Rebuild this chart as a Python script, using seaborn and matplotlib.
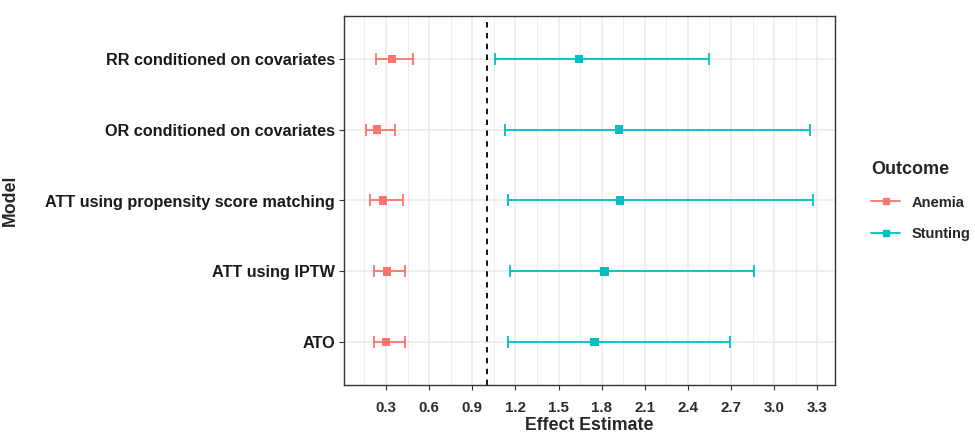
import matplotlib
matplotlib.use("Agg")
import matplotlib.pyplot as plt
from matplotlib.lines import Line2D
import seaborn as sns
import pandas as pd
import numpy as np

models = ["RR conditioned on covariates", "OR conditioned on covariates",
          "ATT using propensity score matching", "ATT using IPTW", "ATO"]
outcomes = ["Anemia", "Stunting"]

anemia_est = [0.34, 0.24, 0.28, 0.31, 0.30]
anemia_lo = [0.23, 0.16, 0.19, 0.22, 0.22]
anemia_hi = [0.49, 0.36, 0.42, 0.43, 0.43]

stunting_est = [1.64, 1.92, 1.93, 1.82, 1.75]
stunting_lo = [1.06, 1.13, 1.15, 1.16, 1.15]
stunting_hi = [2.55, 3.25, 3.27, 2.86, 2.69]

x_ticks = [0.3, 0.6, 0.9, 1.2, 1.5, 1.8, 2.1, 2.4, 2.7, 3.0, 3.3]

df = pd.DataFrame({
    "Model": models * 2,
    "Outcome": ["Anemia"] * 5 + ["Stunting"] * 5,
    "est": anemia_est + stunting_est,
    "lo": anemia_lo + stunting_lo,
    "hi": anemia_hi + stunting_hi,
})
df["y"] = df["Model"].map({m: i for i, m in enumerate(models)})

palette = {"Anemia": "#F8766D", "Stunting": "#00BFC4"}

sns.set_theme(style="white")
plt.rcParams["font.family"] = ["Liberation Sans", "DejaVu Sans"]
plt.rcParams["font.weight"] = "bold"

fig = plt.figure(figsize=(9.75, 4.36), dpi=100)
ax = fig.add_axes([344 / 975, 1 - 385 / 436, (835 - 344) / 975, (385 - 16) / 436])

# grid
for xv in np.arange(0.15, 3.45, 0.15):
    is_major = any(abs(xv - t) < 1e-6 for t in x_ticks)
    ax.axvline(xv, color="#EBEBEB", lw=1.1 if is_major else 0.6, zorder=0)
for yv in range(len(models)):
    ax.axhline(yv, color="#EBEBEB", lw=1.1, zorder=0)

for oc in outcomes:
    sub = df[df["Outcome"] == oc]
    ax.errorbar(sub["est"], sub["y"],
                xerr=[sub["est"] - sub["lo"], sub["hi"] - sub["est"]],
                fmt="none", ecolor=palette[oc], elinewidth=1.3,
                capsize=4.5, capthick=1.3, zorder=2)

sns.scatterplot(data=df, x="est", y="y", hue="Outcome", palette=palette,
                marker="s", s=34, linewidth=0, ax=ax, legend=False, zorder=3)

ax.axvline(1.0, color="black", ls=(0, (3, 3)), lw=1.3, zorder=2)

ax.set_xlim(0.008, 3.423)
ax.set_ylim(len(models) - 1 + 0.6, -0.6)
ax.set_xticks(x_ticks)
ax.set_xticklabels([f"{t:.1f}" for t in x_ticks], fontsize=10.8,
                   fontweight="bold", color="#2b2b2b")
ax.set_yticks(range(len(models)))
ax.set_yticklabels(models, fontsize=11.7, fontweight="bold", color="#1a1a1a")
ax.tick_params(axis="both", length=3.5, width=0.8, color="#333333",
               bottom=True, left=True, pad=3)
ax.tick_params(axis="x", pad=8)
ax.set_xlabel("Effect Estimate", fontsize=12.8, fontweight="bold", labelpad=1.5)
ax.set_ylabel("Model", fontsize=12.8, fontweight="bold")
ax.yaxis.set_label_coords((19 - 344) / 491, 0.5)
for sp in ax.spines.values():
    sp.set_color("#333333")
    sp.set_linewidth(1.0)

handles = [Line2D([0], [0], color=palette[o], lw=1.3, marker="s", markersize=5)
           for o in outcomes]
leg = fig.legend(handles, outcomes, title="Outcome", loc="center left",
                 bbox_to_anchor=(858 / 975, 1 - 201 / 436), frameon=False,
                 prop={"size": 10.5, "weight": "bold"}, handlelength=2.0,
                 labelspacing=1.2, title_fontproperties={"size": 13, "weight": "bold"})
leg._legend_box.align = "left"

fig.savefig("out.png", dpi=100)
